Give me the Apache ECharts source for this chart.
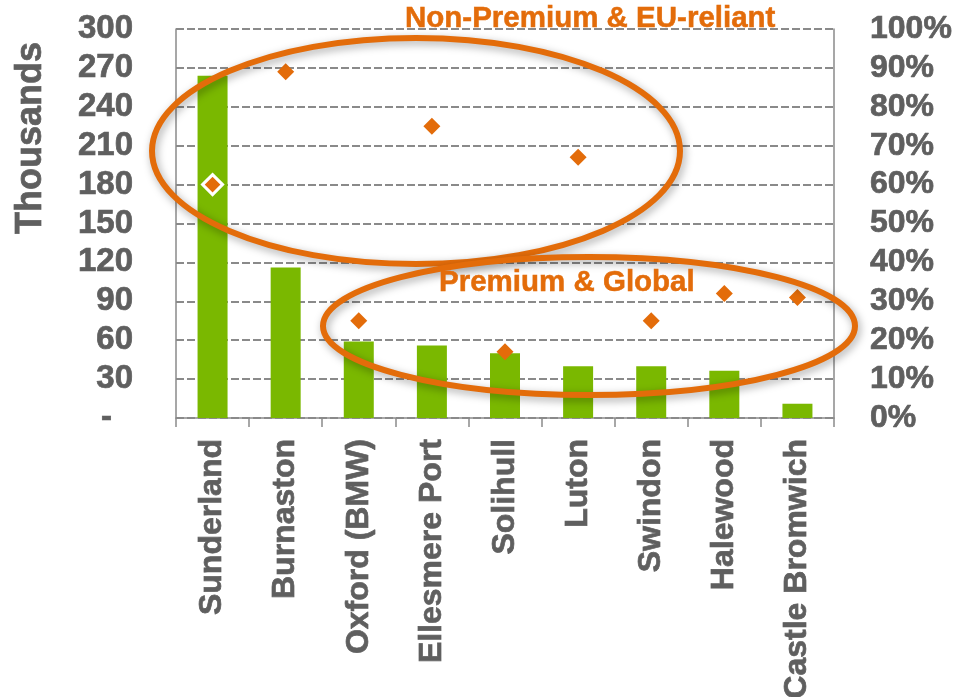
<!DOCTYPE html>
<html>
<head>
<meta charset="utf-8">
<script src="https://cdn.jsdelivr.net/npm/echarts@6/dist/echarts.min.js"></script>
<style>
  html, body { margin: 0; padding: 0; background: #fff; }
  #chart { width: 965px; height: 697px; }
</style>
</head>
<body>
<div id="chart"></div>
<script>
// UK car plants: annual output (thousands) and share of output exported to the EU
const plants = ['Sunderland', 'Burnaston', 'Oxford (BMW)', 'Ellesmere Port', 'Solihull', 'Luton', 'Swindon', 'Halewood', 'Castle Bromwich'];
const outputThousands = [264, 116, 59, 56, 50, 40, 40, 36.5, 11];
const euShare = [0.60, 0.89, 0.25, 0.75, 0.17, 0.67, 0.25, 0.32, 0.31];
const groupLabels = ['Non-Premium & EU-reliant', 'Premium & Global'];
const leftAxisName = 'Thousands';

const GRAY = '#5f5f5f';
const AXIS_GRAY = '#8a8a8a';
const ORANGE = '#E36C0A';
const GREEN = '#7AB800';
const FONT = '"Liberation Sans", Arial, sans-serif';

// heavier bold text, drawn with a thin outline in the same colour
const heavy = color => ({ color: color, fontWeight: 'bold', fontFamily: FONT, textBorderColor: color, textBorderWidth: 0.7 });

const chart = echarts.init(document.getElementById('chart'), null, { renderer: 'canvas' });

const ringStyle = {
  fill: 'none',
  stroke: ORANGE,
  lineWidth: 6,
  shadowBlur: 8,
  shadowColor: 'rgba(0,0,0,0.35)',
  shadowOffsetX: 2,
  shadowOffsetY: 3
};

chart.setOption({
  animation: false,
  backgroundColor: '#fff',
  grid: { left: 176, right: 131, top: 29, bottom: 279, containLabel: false, outerBoundsMode: 'none' },
  xAxis: {
    type: 'category',
    data: plants,
    boundaryGap: true,
    axisLine: { show: true, lineStyle: { color: AXIS_GRAY, width: 1.5 } },
    axisTick: { show: true, length: 9, lineStyle: { color: AXIS_GRAY, width: 1.5 } },
    axisLabel: Object.assign({ rotate: 90, interval: 0, margin: 21, fontSize: 32 }, heavy(GRAY))
  },
  yAxis: [
    {
      type: 'value',
      min: 0, max: 300, interval: 30,
      axisLine: { show: true, lineStyle: { color: AXIS_GRAY, width: 1.5 } },
      axisTick: { show: false },
      axisLabel: Object.assign({
        margin: 43,
        fontSize: 33,
        formatter: v => v === 0 ? '{dash|-}' : String(v),
        rich: { dash: Object.assign({ fontSize: 33, padding: [0, 21, 0, 0] }, heavy(GRAY)) }
      }, heavy(GRAY)),
      splitLine: { show: true, lineStyle: { color: AXIS_GRAY, width: 2, type: [8, 3] } }
    },
    {
      type: 'value',
      min: 0, max: 1, interval: 0.1,
      position: 'right',
      axisLine: { show: true, lineStyle: { color: AXIS_GRAY, width: 1.5 } },
      axisTick: { show: false },
      axisLabel: Object.assign({
        margin: 36,
        fontSize: 32,
        formatter: v => Math.round(v * 100) + '%'
      }, heavy(GRAY)),
      splitLine: { show: false }
    }
  ],
  series: [
    {
      name: 'Output',
      type: 'bar',
      yAxisIndex: 0,
      data: outputThousands,
      barWidth: 30,
      itemStyle: { color: GREEN },
      z: 2
    },
    {
      name: 'EU share',
      type: 'scatter',
      yAxisIndex: 1,
      data: euShare.map((v, i) => i === 0
        ? { value: v, symbolSize: 20, itemStyle: { borderColor: '#fff', borderWidth: 3 } }
        : v),
      symbol: 'diamond',
      symbolSize: 17,
      itemStyle: { color: ORANGE, opacity: 1 },
      z: 4
    }
  ],
  graphic: [
    {
      type: 'text',
      x: 31, y: 138,
      rotation: Math.PI / 2,
      style: { text: leftAxisName, fill: GRAY, stroke: GRAY, lineWidth: 0.7, fontSize: 36, fontWeight: 'bold', fontFamily: FONT, align: 'center', verticalAlign: 'middle' },
      silent: true
    },
    {
      type: 'ellipse',
      shape: { cx: 416, cy: 151, rx: 264, ry: 113 },
      style: ringStyle,
      z: 10, silent: true
    },
    {
      type: 'ellipse',
      shape: { cx: 589, cy: 326, rx: 266, ry: 69 },
      style: ringStyle,
      z: 10, silent: true
    },
    {
      type: 'text',
      x: 405, y: 19,
      style: { text: groupLabels[0], fill: ORANGE, stroke: ORANGE, lineWidth: 0.5, fontSize: 29.5, fontWeight: 'bold', fontFamily: FONT, verticalAlign: 'middle', align: 'left' },
      z: 11, silent: true
    },
    {
      type: 'text',
      x: 439, y: 283,
      style: { text: groupLabels[1], fill: ORANGE, stroke: ORANGE, lineWidth: 0.5, fontSize: 29.5, fontWeight: 'bold', fontFamily: FONT, verticalAlign: 'middle', align: 'left' },
      z: 11, silent: true
    }
  ]
});
</script>
</body>
</html>
